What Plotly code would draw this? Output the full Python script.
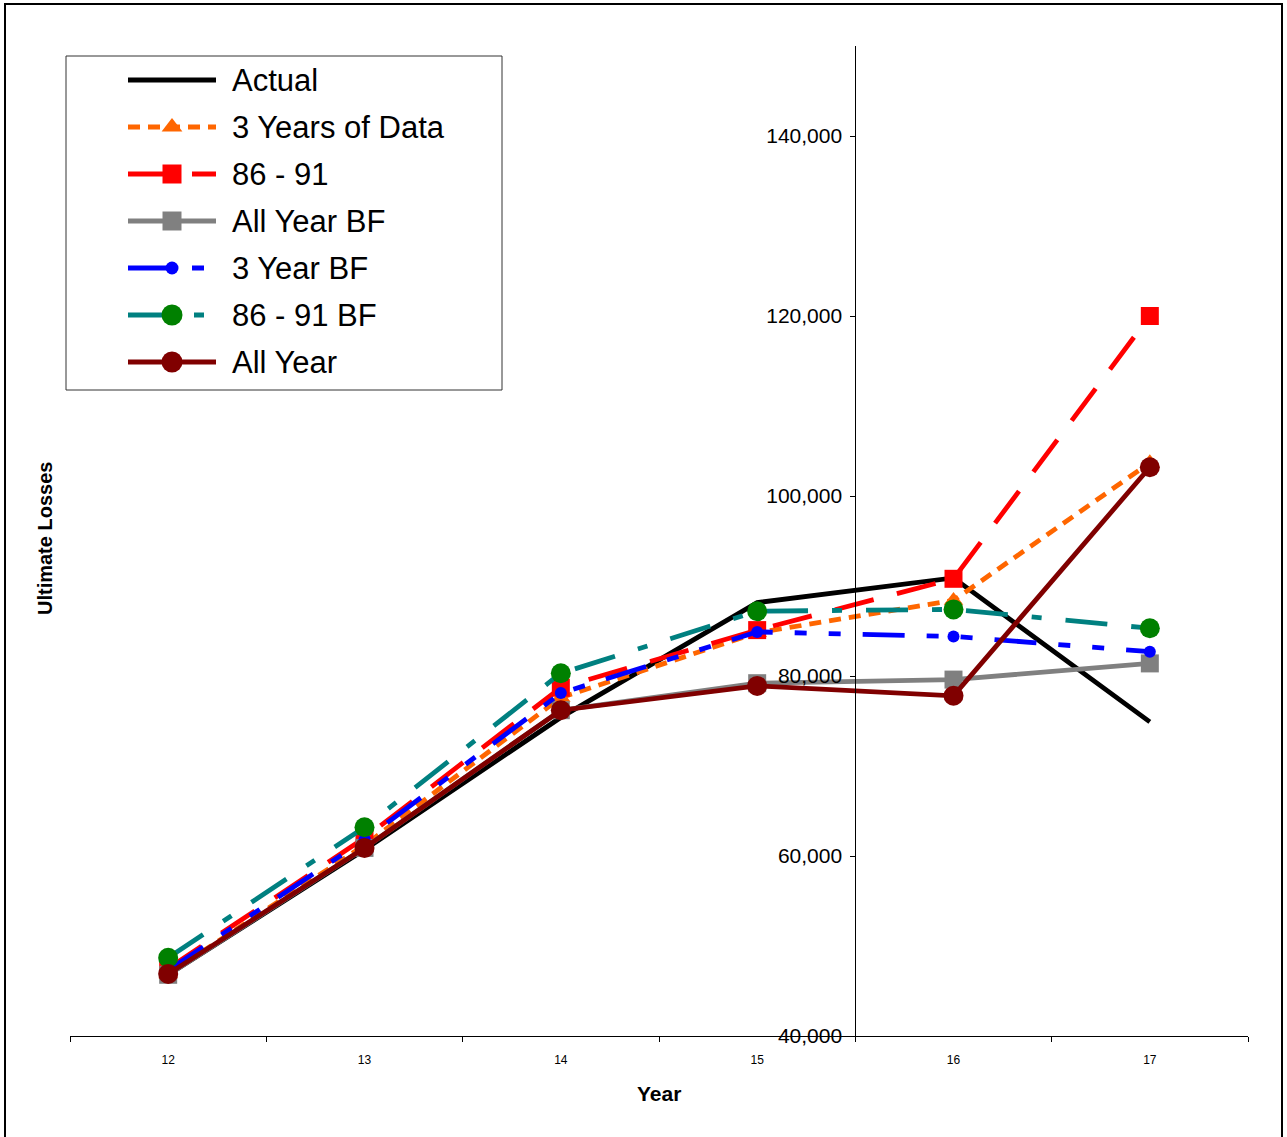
import plotly.graph_objects as go

# Accident years on the category axis
years = ["12", "13", "14", "15", "16", "17"]

# Ultimate loss estimates by method
actual = [46800, 60700, 75400, 88150, 90900, 74900]
three_years_data = [46900, 61200, 77600, 84800, 88400, 103700]
eighty6_91 = [47500, 62000, 78700, 85100, 90800, 120000]
all_year_bf = [46800, 60900, 76200, 79200, 79600, 81400]
three_year_bf = [47300, 61800, 78100, 84900, 84400, 82700]
eighty6_91_bf = [48700, 63200, 80300, 87200, 87400, 85300]
all_year = [46900, 60900, 76200, 78900, 77800, 103200]

y_ticks = [40000, 60000, 80000, 100000, 120000, 140000]

FONT = "Liberation Sans, Arial, sans-serif"
LW = 4.8

# Canvas / plot-area geometry in pixels
W, H = 1287, 1137
L, R, T, B = 70, 1248, 46, 1036


def px_x(p):
    return (p - L) / (R - L)


def px_y(p):
    return (B - p) / (B - T)


series = [
    dict(name="Actual", y=actual, color="#000000", dash="solid", marker=None),
    dict(name="3 Years of Data", y=three_years_data, color="#FF6600", dash="12px,8px",
         marker=dict(symbol="triangle-up", size=17, color="#FF6600")),
    dict(name="86 - 91", y=eighty6_91, color="#FF0000", dash="40px,24px",
         marker=dict(symbol="square", size=18, color="#FF0000")),
    dict(name="All Year BF", y=all_year_bf, color="#808080", dash="solid",
         marker=dict(symbol="square", size=18, color="#808080")),
    dict(name="3 Year BF", y=three_year_bf, color="#0000FF", dash="42px,22px,12px,22px,12px,22px",
         marker=dict(symbol="circle", size=12, color="#0000FF")),
    dict(name="86 - 91 BF", y=eighty6_91_bf, color="#008080", dash="42px,24px,10px,24px",
         marker=dict(symbol="circle", size=20, color="#008000")),
    dict(name="All Year", y=all_year, color="#800000", dash="solid",
         marker=dict(symbol="circle", size=20, color="#800000")),
]

fig = go.Figure()
for s in series:
    mk = None
    if s["marker"]:
        mk = dict(s["marker"], opacity=1, line=dict(width=0))
    fig.add_trace(go.Scatter(
        x=years, y=s["y"], name=s["name"], showlegend=False,
        mode="lines+markers" if mk else "lines",
        line=dict(color=s["color"], width=LW, dash=s["dash"]),
        marker=mk,
    ))

# Legend drawn on a pixel-scaled overlay axis so the key samples can be long
LEG_X0, LEG_X1, LEG_TEXT_X = 128, 216, 230
LEG_ROW0, LEG_ROW_STEP = 80, 47
annotations = []
for i, s in enumerate(series):
    ry = LEG_ROW0 + i * LEG_ROW_STEP
    mk = None
    if s["marker"]:
        mk = dict(s["marker"], opacity=1, line=dict(width=0))
        mk["size"] = [0, s["marker"]["size"] + 1, 0]
    fig.add_trace(go.Scatter(
        x=[LEG_X0, (LEG_X0 + LEG_X1) / 2, LEG_X1], y=[ry, ry, ry],
        xaxis="x2", yaxis="y2", showlegend=False, hoverinfo="skip",
        mode="lines+markers" if mk else "lines",
        line=dict(color=s["color"], width=LW, dash=s["dash"]),
        marker=mk,
    ))
    annotations.append(dict(
        text=s["name"], x=LEG_TEXT_X, y=ry, xref="x2", yref="y2",
        xanchor="left", yanchor="middle", showarrow=False,
        font=dict(size=31, family=FONT, color="black"),
    ))

annotations += [
    dict(text="<b>Ultimate Losses</b>", x=px_x(45), y=px_y(539),
         xref="paper", yref="paper", textangle=-90, showarrow=False,
         xanchor="center", yanchor="middle",
         font=dict(size=20, family=FONT)),
    dict(text="<b>Year</b>", x=0.5, y=px_y(1093),
         xref="paper", yref="paper", showarrow=False,
         xanchor="center", yanchor="middle",
         font=dict(size=21, family=FONT)),
]

fig.update_layout(
    width=W, height=H,
    margin=dict(l=L, r=W - R, t=T, b=H - B),
    paper_bgcolor="white", plot_bgcolor="white",
    font=dict(family=FONT, color="black"),
    showlegend=False,
    xaxis=dict(
        type="category", tickson="boundaries", range=[-0.5, 5.5],
        showline=True, linecolor="black", linewidth=1,
        ticks="outside", ticklen=5, tickcolor="black",
        showgrid=False, zeroline=False,
        tickfont=dict(size=12, family=FONT),
        ticklabelstandoff=13,
    ),
    yaxis=dict(
        range=[40000, 150000], anchor="free", position=4 / 6,
        tickvals=y_ticks, tickformat=",d",
        showline=True, linecolor="black", linewidth=1,
        ticks="outside", ticklen=5, tickcolor="black",
        showgrid=False, zeroline=False,
        tickfont=dict(size=21, family=FONT),
        ticklabelstandoff=4,
    ),
    xaxis2=dict(range=[L, R], overlaying="x", visible=False, fixedrange=True),
    yaxis2=dict(range=[B, T], overlaying="y", visible=False, fixedrange=True),
    annotations=annotations,
    shapes=[
        dict(type="rect", xref="paper", yref="paper",
             x0=px_x(5), x1=px_x(1282), y0=px_y(1150), y1=px_y(4),
             line=dict(color="black", width=2), fillcolor="rgba(0,0,0,0)", layer="below"),
        dict(type="rect", xref="paper", yref="paper",
             x0=px_x(66), x1=px_x(502), y0=px_y(390), y1=px_y(56),
             line=dict(color="#333333", width=1), fillcolor="white", layer="below"),
    ],
)

fig.write_html("out.html")
